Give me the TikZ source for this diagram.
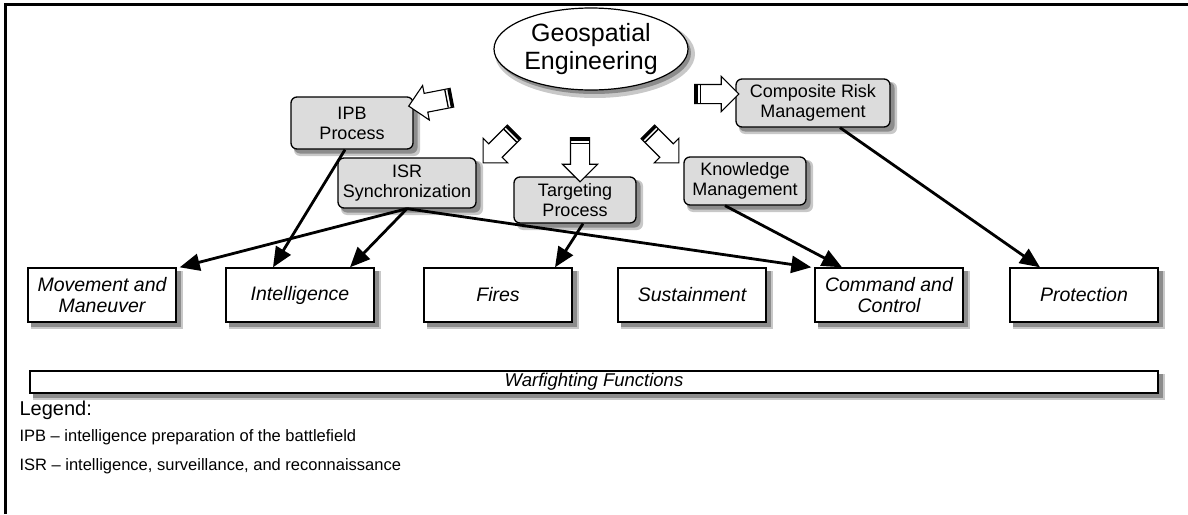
\documentclass[tikz,border=0pt]{standalone}
\usepackage{fontspec}
\setmainfont{Liberation Sans}
\usepackage{xcolor}
\usetikzlibrary{shapes.geometric,shapes.arrows,arrows.meta,calc}
\definecolor{boxgray}{HTML}{DCDCDC}
\definecolor{shadowgray}{HTML}{8C8C8C}
\definecolor{shadowlight}{HTML}{C8C8C8}

\begin{document}
\begin{tikzpicture}[x=1pt,y=-1pt,
	task/.style={draw,line width=1.3pt,rounded corners=6pt,fill=boxgray,align=center,inner sep=2pt,font=\fontsize{18}{20}\selectfont},
	wff/.style={draw,line width=1.4pt,fill=white,minimum width=148pt,minimum height=54pt,align=center,inner sep=1pt,font=\fontsize{19.5}{21}\selectfont\itshape},
	link/.style={line width=2.8pt,-{Triangle[length=20pt,width=17pt]}},
	feed/.style={single arrow,draw,line width=1.1pt,fill=white,minimum height=44pt,inner xsep=0pt,inner ysep=9pt,single arrow head extend=8pt}]
	\useasboundingbox (0,0) rectangle (1188,514);
	% frame
	\draw[line width=3pt] (5,514) -- (5,4) -- (1188,4);

	% shadows first, boxes on top
	\foreach \cx/\cy/\w/\h/\r in {102/295/148/54/0,300/295/148/54/0,498/295/148/54/0,692/295/148/54/0,889/295/148/54/0,1084/295/148/54/0,594/382/1128/22/0,
		352/123/122/52/6,813/103/154/48/6,407/183/138/50/6,575/200/122/46/6,745/181/122/48/6}{
		\fill[shadowlight,rounded corners=\r pt] (\cx-\w/2+3,\cy-\h/2+3) rectangle (\cx+\w/2+7,\cy+\h/2+7);
		\fill[shadowgray,rounded corners=\r pt] (\cx-\w/2+3,\cy-\h/2+3) rectangle (\cx+\w/2+4.5,\cy+\h/2+4.5);
	}
	\fill[shadowlight] (595,54) ellipse [x radius=100pt, y radius=44pt];
	\fill[shadowgray] (594,53) ellipse [x radius=97pt, y radius=41pt];

	% centre and the tasks round it
	\node[ellipse,draw,line width=1.2pt,fill=white,minimum width=194pt,minimum height=82pt,inner sep=0pt,align=center,font=\fontsize{25}{28}\selectfont] (geo) at (591,49) {Geospatial\\Engineering};
	\node[task,minimum width=122pt,minimum height=52pt] (ipb) at (352,123) {IPB\\Process};
	\node[task,minimum width=154pt,minimum height=48pt] (crm) at (813,103) {Composite Risk\\Management};
	\node[task,minimum width=138pt,minimum height=50pt] (isr) at (407,183) {ISR\\Synchronization};
	\node[task,minimum width=122pt,minimum height=46pt] (tgt) at (575,200) {Targeting\\Process};
	\node[task,minimum width=122pt,minimum height=48pt] (km) at (745,181) {Knowledge\\Management};

	% block arrows out of the ellipse
	\node[feed,rotate=191] (toipb) at (435,101) {};
	\node[feed,rotate=225] (toisr) at (502,144) {};
	\node[feed,rotate=270] (totgt) at (580,155) {};
	\node[feed,rotate=315] (tokm) at (660,144) {};
	\node[feed,rotate=0] (tocrm) at (712,94) {};
	\foreach \a in {toipb,toisr,totgt,tokm,tocrm}{
		\coordinate (s1) at ($(\a.tail)!2pt!(\a.tip)$);
		\coordinate (s2) at ($(\a.tail)!6pt!(\a.tip)$);
		\draw[line width=3pt] ($(s1)!9pt!90:(\a.tip)$) -- ($(s1)!9pt!-90:(\a.tip)$);
		\draw[line width=1.3pt] ($(s2)!9pt!90:(\a.tip)$) -- ($(s2)!9pt!-90:(\a.tip)$);
	}

	% warfighting functions
	\node[wff] (mm) at (102,295) {Movement and\\Maneuver};
	\node[wff] (intel) at (300,295) {Intelligence};
	\node[wff] (fires) at (498,295) {Fires};
	\node[wff] (sust) at (692,295) {Sustainment};
	\node[wff] (c2) at (889,295) {Command and\\Control};
	\node[wff] (prot) at (1084,295) {Protection};
	\node[draw,line width=1.4pt,fill=white,minimum width=1128pt,minimum height=22pt,inner sep=0pt,font=\fontsize{18.5}{20}\selectfont\itshape] (bar) at (594,382) {Warfighting Functions};

	\draw[link] ([xshift=-7pt]ipb.south) -- ([xshift=-27pt]intel.north);
	\draw[link] (isr.south) -- ([xshift=3pt]mm.north east);
	\draw[link] (isr.south) -- ([xshift=50pt]intel.north);
	\draw[link] (isr.south) -- ([xshift=-3pt]c2.north west);
	\draw[link] ([xshift=8pt]tgt.south) -- ([xshift=57pt]fires.north);
	\draw[link] ([xshift=-20pt]km.south) -- ([xshift=-47pt]c2.north);
	\draw[link] ([xshift=27pt]crm.south) -- ([xshift=-44pt]prot.north);

	% legend
	\node[anchor=west,font=\fontsize{20}{22}\selectfont] (leg) at (16,410) {Legend:};
	\node[anchor=west,font=\fontsize{16.5}{18}\selectfont] (ipbkey) at (16,437) {IPB – intelligence preparation of the battlefield};
	\node[anchor=west,font=\fontsize{16.5}{18}\selectfont] (isrkey) at (16,466) {ISR – intelligence, surveillance, and reconnaissance};
\end{tikzpicture}
\end{document}
